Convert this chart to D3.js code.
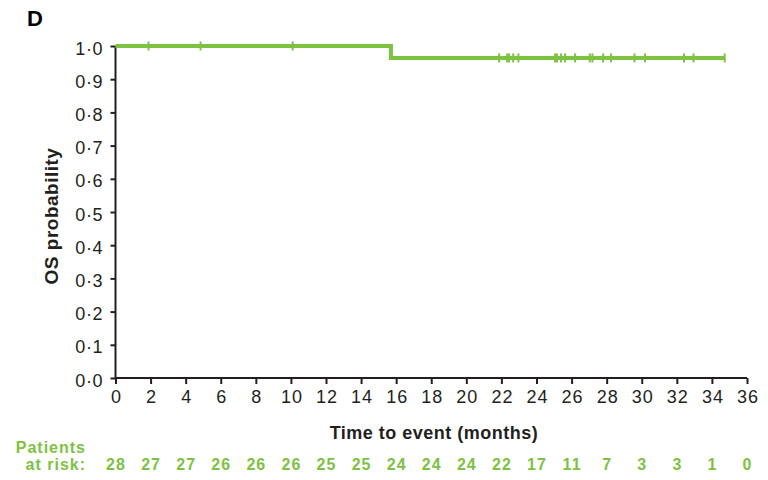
<!DOCTYPE html>
<html><head><meta charset="utf-8">
<script src="https://cdn.jsdelivr.net/npm/d3@7"></script>
<style>body{margin:0;background:#fff;}svg{display:block;font-family:"Liberation Sans",Arial,sans-serif;}</style>
</head><body><svg id="c" width="768" height="480"></svg>
<script>
// Data
const stepTimes = [0, 15.7, 34.75];
const stepSurv = [1.0, 0.964, 0.964];
const censorTimes = [1.88, 4.85, 10.1, 21.87, 22.33, 22.44, 22.67, 22.97, 25.06, 25.17, 25.4, 25.63, 26.2, 27.04, 27.19, 27.8, 28.25, 29.59, 30.19, 32.41, 32.95, 34.73];
const xTicks = [0,2,4,6,8,10,12,14,16,18,20,22,24,26,28,30,32,34,36];
const yTicks = [0,0.1,0.2,0.3,0.4,0.5,0.6,0.7,0.8,0.9,1.0];
const atRisk = [28,27,27,26,26,26,25,25,24,24,24,22,17,11,7,3,3,1,0];

const green = "#7dc242";
const dark = "#231f20";
const svg = d3.select("#c");
const x = d3.scaleLinear().domain([0,36]).range([115.5,747]);
const y = d3.scaleLinear().domain([0,1]).range([378,46]);

function survAt(t){ let s=1; for(let i=0;i<stepTimes.length;i++){ if(t>=stepTimes[i]) s=stepSurv[i]; } return s; }

// axes
const fmt = d => d.toFixed(1).replace(".", "\u00B7");
const ya = svg.append("g").attr("transform","translate(115.5,0)")
  .call(d3.axisLeft(y).tickValues(yTicks).tickFormat(fmt).tickSize(5).tickPadding(8));
const xa = svg.append("g").attr("transform","translate(0,378)")
  .call(d3.axisBottom(x).tickValues(xTicks).tickFormat(d3.format("d")).tickSize(6).tickPadding(6));
[ya,xa].forEach(a=>{
  a.selectAll(".domain").attr("stroke",dark).attr("stroke-width",2);
  a.selectAll(".tick line").attr("stroke",dark).attr("stroke-width",2);
  a.selectAll("text").attr("fill",dark).style("font-size","18px").style("font-family","'Liberation Sans',Arial,sans-serif");
});
ya.selectAll("text").attr("dy","0.45em").attr("letter-spacing",0.6).attr("dx",0.6);
xa.selectAll("text").attr("letter-spacing",1).attr("dx",0.5);
xa.select(".domain").attr("d","M"+x(0)+",0H"+x(36));
ya.select(".domain").attr("d","M0,"+y(0)+"V"+y(1));

// KM curve
const line = d3.line().curve(d3.curveStepAfter).x(d=>x(d[0])).y(d=>y(d[1]));
svg.append("path").datum(stepTimes.map((t,i)=>[t,stepSurv[i]]))
  .attr("d",line).attr("fill","none").attr("stroke",green).attr("stroke-width",4);

// censor marks
svg.append("g").selectAll("line").data(censorTimes).join("line")
  .attr("x1",d=>x(d)).attr("x2",d=>x(d))
  .attr("y1",d=>y(survAt(d))-4.5).attr("y2",d=>y(survAt(d))+4.5)
  .attr("stroke",green).attr("stroke-width",2);

// labels
svg.append("text").attr("x",27).attr("y",26).text("D")
  .attr("font-weight","bold").attr("font-size",22).attr("fill","#000");
svg.append("text").attr("transform","translate(58,216) rotate(-90)")
  .attr("text-anchor","middle").attr("font-weight","bold").attr("font-size",19)
  .attr("letter-spacing",0.5).attr("fill",dark)
  .text("OS probability");
svg.append("text").attr("x",434).attr("y",439).attr("text-anchor","middle")
  .attr("font-weight","bold").attr("font-size",18).attr("letter-spacing",0.5).attr("fill",dark).text("Time to event (months)");

svg.append("text").attr("x",86).attr("y",453).attr("text-anchor","end")
  .attr("font-weight","bold").attr("font-size",16).attr("letter-spacing",1).attr("fill",green).text("Patients");
svg.append("text").attr("x",86).attr("y",470).attr("text-anchor","end")
  .attr("font-weight","bold").attr("font-size",16).attr("letter-spacing",1).attr("fill",green).text("at risk:");
svg.append("g").selectAll("text").data(atRisk).join("text")
  .attr("x",(d,i)=>x(xTicks[i])+0.5).attr("y",470).attr("text-anchor","middle")
  .attr("font-weight","bold").attr("font-size",16).attr("letter-spacing",1).attr("fill",green).text(d=>d);
</script></body></html>
